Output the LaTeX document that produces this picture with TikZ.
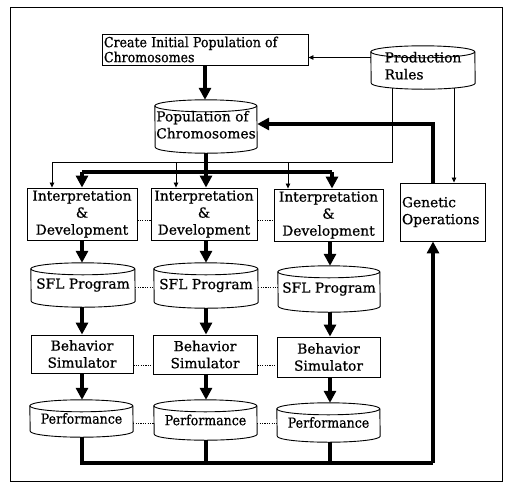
\documentclass[tikz,border=0pt]{standalone}
\usepackage{fontspec}
\setmainfont{DejaVu Serif}
\newfontfamily\dfont{DejaVu Serif}[FakeBold=0.7]
\usetikzlibrary{arrows.meta}
\newcommand\cyldraw[3]{%
 \draw[line width=0.9pt] ([yshift=-#3]#1.north west) arc[start angle=180,end angle=0,x radius=#2,y radius=#3] -- ([yshift=#3]#1.south east) arc[start angle=0,end angle=-180,x radius=#2,y radius=#3] -- cycle;
 \draw[line width=0.9pt] ([yshift=-#3]#1.north west) arc[start angle=180,end angle=360,x radius=#2,y radius=#3];}
\newcommand\lstack[1]{\begin{tabular}{@{}l@{}}#1\end{tabular}}
\newcommand\narrow[1]{\scalebox{0.91}[1]{#1}}
\begin{document}
\begin{tikzpicture}[x=1pt,y=-1pt,
  every node/.style={inner sep=0pt,font=\dfont\fontsize{13.8}{17}\selectfont},
  box/.style={draw,line width=0.9pt},
  thinl/.style={line width=0.8pt},
  thinarr/.style={line width=0.8pt,-{Triangle[width=4.5pt,length=5pt]}},
  thickl/.style={line width=3.2pt},
  thickarr/.style={line width=3.2pt,-{Triangle[width=12pt,length=12pt]}},
  dotconn/.style={line width=0.8pt,dash pattern=on 1.2pt off 1.2pt}]
\useasboundingbox (0,0) rectangle (506,491);
\draw[line width=1pt] (10,7) rectangle (502,481);
% top nodes
\node[box,minimum width=206pt,minimum height=31pt,text width=202pt,align=left] (create) at (205,49.5) {\narrow{Create Initial Population of}\\[-2pt]\narrow{Chromosomes}};
\node[minimum width=104pt,minimum height=43pt] (prod) at (423,67.5) {\raisebox{-5pt}{\lstack{Production\\Rules}}};
\cyldraw{prod}{52pt}{6pt}
\node[minimum width=102pt,minimum height=53pt] (pop) at (206,126.5) {\raisebox{-1pt}{\lstack{Population of\\Chromosomes}}};
\cyldraw{pop}{51pt}{6pt}
\node[box,minimum width=85pt,minimum height=58pt,text width=81pt,align=left] (gen) at (442.5,212) {Genetic\\Operations};
% interpretation row
\node[box,minimum width=110pt,minimum height=52pt,align=center] (i1) at (82,214) {Interpretation\\\&\\Development};
\node[box,minimum width=106pt,minimum height=52pt,align=center] (i2) at (204,214) {Interpretation\\\&\\Development};
\node[box,minimum width=109pt,minimum height=52pt,align=center] (i3) at (328.5,215) {Interpretation\\\&\\Development};
% SFL row
\node[minimum width=104pt,minimum height=44pt] (s1) at (83,285) {\raisebox{-4pt}{SFL Program}};
\cyldraw{s1}{52pt}{6pt}
\node[minimum width=104pt,minimum height=45pt] (s2) at (206,285.5) {\raisebox{-4pt}{SFL Program}};
\cyldraw{s2}{52pt}{6pt}
\node[minimum width=102pt,minimum height=46pt] (s3) at (329,289) {\raisebox{-4pt}{SFL Program}};
\cyldraw{s3}{51pt}{6pt}
% behavior row
\node[box,minimum width=102pt,minimum height=38pt,align=center] (b1) at (82,354) {Behavior\\Simulator};
\node[box,minimum width=104pt,minimum height=39pt,align=center] (b2) at (205,354.5) {Behavior\\Simulator};
\node[box,minimum width=103pt,minimum height=40pt,align=center] (b3) at (328.5,357) {Behavior\\Simulator};
% performance row
\node[minimum width=103pt,minimum height=37pt] (p1) at (81.5,418.5) {\raisebox{-4pt}{\narrow{Performance}}};
\cyldraw{p1}{51.5pt}{6pt}
\node[minimum width=103pt,minimum height=40pt] (p2) at (205.5,420) {\raisebox{-4pt}{\narrow{Performance}}};
\cyldraw{p2}{51.5pt}{6pt}
\node[minimum width=103pt,minimum height=39pt] (p3) at (328.5,422.5) {\raisebox{-4pt}{\narrow{Performance}}};
\cyldraw{p3}{51.5pt}{6pt}
% dotted links
\draw[dotconn] ([yshift=-6pt]i1.east) -- ([yshift=-6pt]i1.east -| i2.west);
\draw[dotconn] ([yshift=-6pt]i2.east) -- ([yshift=-6pt]i2.east -| i3.west);
\draw[dotconn] ([yshift=-2pt]s1.east) -- ([yshift=-2pt]s1.east -| s2.west);
\draw[dotconn] ([yshift=-2pt]s2.east) -- ([yshift=-2pt]s2.east -| s3.west);
\draw[dotconn] ([yshift=-11pt]b1.east) -- ([yshift=-11pt]b1.east -| b2.west);
\draw[dotconn] ([yshift=-10.5pt]b2.east) -- ([yshift=-10.5pt]b2.east -| b3.west);
\draw[dotconn] ([yshift=-4.5pt]p1.east) -- ([yshift=-4.5pt]p1.east -| p2.west);
\draw[dotconn] ([yshift=-3pt]p2.east) -- ([yshift=-3pt]p2.east -| p3.west);
% thin connectors from production rules
\draw[thinarr] ([yshift=10pt]prod.west) -- ([yshift=10pt]prod.west -| create.east);
\coordinate (j1) at (52,162);
\coordinate (j2) at (176,162);
\coordinate (j3) at (288,162);
\draw[thinl] ([xshift=-31pt,yshift=1.5pt]prod.south) |- (j1);
\draw[thinarr] (j1) -- (j1 |- i1.north);
\draw[thinarr] (j2) -- (j2 |- i2.north);
\draw[thinarr] (j3) -- (j3 |- i3.north);
\draw[thinarr] ([xshift=31pt,yshift=1.5pt]prod.south) -- ([xshift=31pt]prod.south |- gen.north);
% thick flow
\draw[thickarr] (create.south) -- (create.south |- pop.north);
\coordinate (k1) at (82,172);
\coordinate (k3) at (332,172);
\draw[thickl] (k1) -- (k3);
\draw[thickarr] (k1) -- (k1 |- i1.north);
\draw[thickarr] (k3) -- (k3 |- i3.north);
\draw[thickarr] (pop.south) -- (pop.south |- i2.north);
\draw[thickarr] (i1.south) -- (i1.south |- s1.north);
\draw[thickarr] (i2.south -| pop.south) -- (pop.south |- s2.north);
\draw[thickarr] ([xshift=1.5pt]i3.south) -- ([xshift=1.5pt]i3.south |- s3.north);
\draw[thickarr] (s1.south -| i1.south) -- (i1.south |- b1.north);
\draw[thickarr] (s2.south -| pop.south) -- (pop.south |- b2.north);
\draw[thickarr] ([xshift=1.5pt]s3.south -| i3.south) -- ([xshift=1.5pt]i3.south |- b3.north);
\draw[thickarr] (b1.south -| i1.south) -- (i1.south |- p1.north);
\draw[thickarr] (b2.south -| pop.south) -- (pop.south |- p2.north);
\draw[thickarr] ([xshift=1.5pt]b3.south -| i3.south) -- ([xshift=1.5pt]i3.south |- p3.north);
\coordinate (bot) at (433,463);
\draw[thickl] (p1.south -| i1.south) |- (bot);
\draw[thickl] (p2.south -| pop.south) -- (pop.south |- bot);
\draw[thickl] ([xshift=1.5pt]p3.south -| i3.south) -- ([xshift=1.5pt]i3.south |- bot);
\draw[thickarr] (bot) -- (bot |- gen.south);
\draw[thickarr] (bot |- gen.north) |- ([yshift=2.5pt]pop.east);
\end{tikzpicture}
\end{document}
